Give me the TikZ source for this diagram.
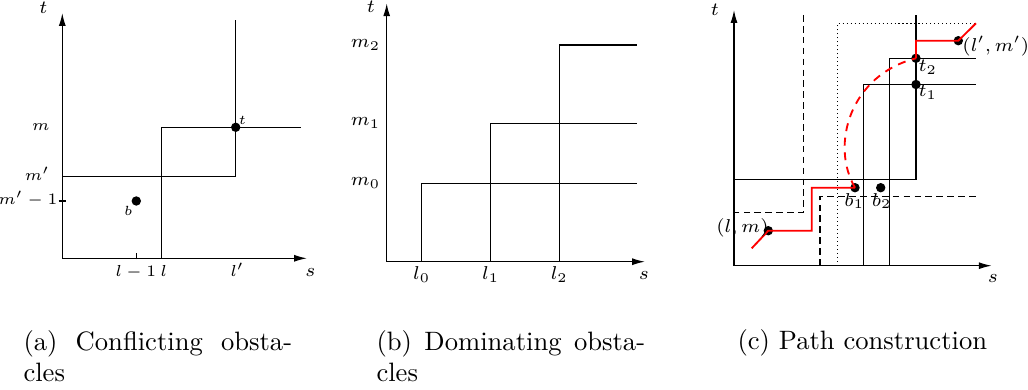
\documentclass[tikz,border=0pt]{standalone}
\usepackage{tikz}
\usetikzlibrary{arrows.meta}
\tikzset{
  >={Latex[length=4.8pt,width=2.6pt]},
  axis/.style = {->, line width=0.5pt},
  obst/.style = {line width=0.4pt},
  obstDashed/.style = {obst, dash pattern=on 2.5pt off 1.6pt},
  obstDotted/.style = {obst, dash pattern=on 0.4pt off 1.1pt},
  redpath/.style = {red, line width=0.7pt},
  redcurve/.style = {red, line width=0.7pt, dash pattern=on 3pt off 2.5pt},
  dot/.style = {circle, fill, inner sep=1.25pt, outer sep=0pt},
  lbl/.style = {font=\scriptsize, inner sep=0pt},
  smalllbl/.style = {font=\fontsize{6.5}{8}\selectfont, inner sep=0pt},
  tinylbl/.style = {font=\tiny, inner sep=0pt},
  caption/.style = {text width=101pt, align=justify, inner sep=0pt, anchor=base west, font=\fontsize{10}{11.3}\selectfont},
}

\begin{document}
\begin{tikzpicture}[x=0.376pt, y=0.376pt]
  \useasboundingbox (0,0) rectangle (1028,389);

  % ----------------------------------------------------------------------
  % (a) Conflicting obstacles
  % ----------------------------------------------------------------------
  \begin{scope}[shift={(62.3,130.7)}]
    \draw[axis] (0,0) -- (244.7,0);
    \draw[axis] (0,0) -- (0,245.3);
    \node[lbl] (tA) at (-19,251) {$t$};
    \node[lbl] (sA) at (248,-14) {$s$};

    % the two obstacles
    \draw[obst] (99.4,0) |- (238.7,131);
    \draw[obst] (0,81.6) -| (173.4,238.3);

    % ticks
    \draw[obst] (74,-1) -- (74,5);
    \draw[obst] (-3.7,57.3) -- (3.7,57.3);

    \node[dot] (bA) at (74,57.3) {};
    \node[dot] (tDotA) at (173.4,131) {};
    \node[tinylbl] (bLblA) at (66,47.5) {$b$};
    \node[tinylbl] (tLblA) at (180,138.3) {$t$};

    % axis labels
    \node[smalllbl, anchor=base] (lm1) at (73.5,-18.7) {$l-1$};
    \node[smalllbl, anchor=base] (lA) at (101.5,-18.7) {$l$};
    \node[smalllbl, anchor=base] (lpA) at (175,-18.7) {$l'$};
    \node[smalllbl, anchor=base east] (mA) at (-12.3,127.3) {$m$};
    \node[smalllbl, anchor=base east] (mpA) at (-12.3,77.3) {$m'$};
    \node[smalllbl, anchor=base east, font=\fontsize{6}{7}\selectfont] (mpm1) at (-4.5,53.3) {$m'-1$};

    \node[caption] (capA) at (-39.3,-92.7) {(a) Conflicting obsta-\linebreak cles};
  \end{scope}

  % ----------------------------------------------------------------------
  % (b) Dominating obstacles
  % ----------------------------------------------------------------------
  \begin{scope}[shift={(386.7,127.3)}]
    \draw[axis] (0,0) -- (258.3,0);
    \draw[axis] (0,0) -- (0,258.4);
    \node[lbl] (tB) at (-15.7,254.7) {$t$};
    \node[lbl] (sB) at (257.3,-13.3) {$s$};

    % staircase of obstacles
    \foreach \l/\m/\i in {35/78.4/0, 104/138.4/1, 172.6/216.7/2} {
      \draw[obst] (\l,0) |- (250,\m);
      \node[lbl, anchor=base] (l\i) at (\l,-18.3) {$l_{\i}$};
      \node[lbl, anchor=east] (m\i) at (-6,\m) {$m_{\i}$};
    }

    \node[caption] (capB) at (-10.7,-89.3) {(b) Dominating obsta-\linebreak cles};
  \end{scope}

  % ----------------------------------------------------------------------
  % (c) Path construction
  % ----------------------------------------------------------------------
  \begin{scope}[shift={(734,123.3)}]
    \draw[axis] (0,0) -- (257.7,0);
    \draw[axis] (0,0) -- (0,255.7);
    \node[lbl] (tC) at (-19,255.7) {$t$};
    \node[lbl] (sC) at (259,-12.3) {$s$};

    % solid obstacles
    \draw[obst] (0,86.2) -| (182,250.7);
    \draw[obst] (129.3,0) |- (242,181.2);
    \draw[obst] (155.3,0) |- (242,207.4);

    % dashed and dotted obstacles
    \draw[obstDashed] (69.3,250.7) |- (0,53);
    \draw[obstDashed] (86,0) |- (242,69);
    \draw[obstDotted] (103.7,0) |- (241,242.4);

    % points
    \node[dot] (lm) at (34.3,35) {};
    \node[dot] (b1) at (121,78) {};
    \node[dot] (b2) at (146.7,78) {};
    \node[dot] (t1) at (182,181.2) {};
    \node[dot] (t2) at (182,207.4) {};
    \node[dot] (lpmp) at (224.3,225) {};
    \coordinate (pStart) at (17.7,17.4);
    \coordinate (kink) at (77.7,78);
    \coordinate (pEnd) at (242,242.4);

    % the constructed path
    \draw[redpath] (pStart) -- (lm.center) -| (kink) -- (b1.center);
    \draw[redcurve] (b1.center) .. controls (96,120.7) and (116,190.7) .. (t2.center);
    \draw[redpath] (t2.center) |- (lpmp.center) -- (pEnd);

    \node[lbl] (b1Lbl) at (120.3,64.5) {$b_1$};
    \node[lbl] (b2Lbl) at (147.7,64.5) {$b_2$};
    \node[lbl, anchor=north west] (t1Lbl) at (184,181) {$t_1$};
    \node[lbl, anchor=north west] (t2Lbl) at (184,206) {$t_2$};
    \node[lbl] (lmLbl) at (8.5,37.4) {$(l,m)$};
    \node[lbl] (lpmpLbl) at (261.8,219.4) {$(l',m')$};

    \node[caption] (capC) at (3,-84.3) {(c) Path construction};
  \end{scope}

\end{tikzpicture}
\end{document}
